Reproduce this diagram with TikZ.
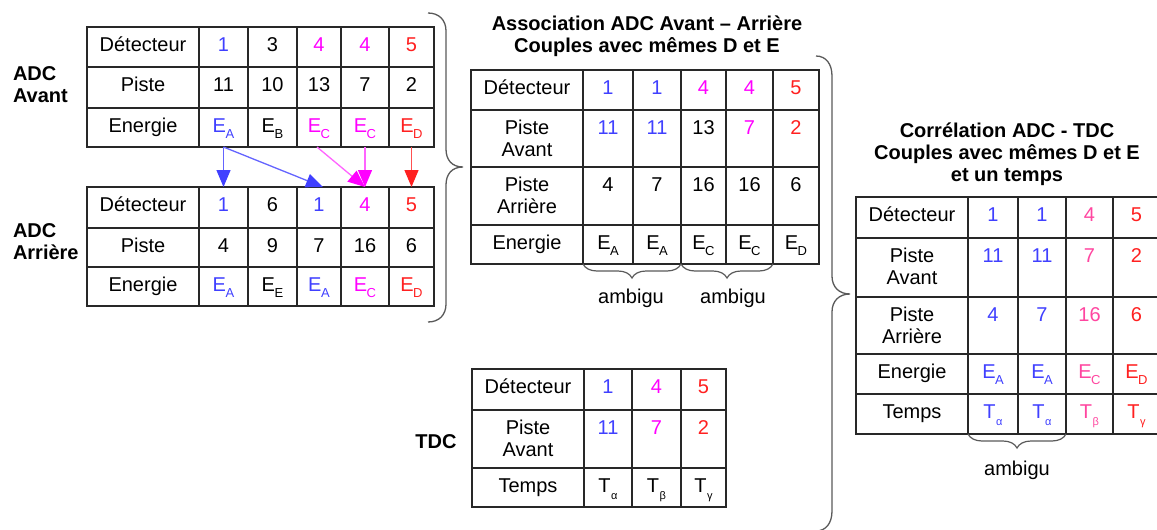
\documentclass[tikz,border=0pt]{standalone}
\usepackage{fontspec}
\setmainfont{Liberation Sans}
\usetikzlibrary{arrows.meta,decorations.pathreplacing}
\definecolor{cb}{RGB}{64,64,255}
\definecolor{cm}{RGB}{255,0,255}
\definecolor{cr}{RGB}{255,32,32}
\definecolor{cp}{RGB}{255,70,160}
\definecolor{gridc}{RGB}{40,40,40}
\definecolor{brc}{RGB}{90,90,90}
\definecolor{lineb}{RGB}{100,100,255}
\definecolor{linem}{RGB}{255,100,255}
\definecolor{liner}{RGB}{255,80,80}
\newcommand\cbox[2]{\vbox to #1pt{\vskip 8.6pt\hbox{\begin{tabular}[t]{@{}c@{}}#2\end{tabular}}\vss}}
\newcommand\mkcell[6]{\node[cellbox, minimum width=#4pt, minimum height=#5pt, anchor=north west] (#1) at (#2,#3) {\cbox{#5}{#6}};}
\newcommand\Es[1]{E\kern-0.5pt\raisebox{-6.5pt}{\fontsize{13}{13}\selectfont #1}}
\newcommand\Ts[1]{T\kern0.5pt\raisebox{-7pt}{\fontsize{11}{11}\selectfont #1}}
\newcommand\cB[1]{\textcolor{cb}{#1}}
\newcommand\cM[1]{\textcolor{cm}{#1}}
\newcommand\cR[1]{\textcolor{cr}{#1}}
\newcommand\cP[1]{\textcolor{cp}{#1}}
\begin{document}
\begin{tikzpicture}[x=1pt,y=-1pt,
  every node/.style={font=\fontsize{20}{22}\selectfont, inner sep=0pt, outer sep=0pt},
  cellbox/.style={draw=gridc, line width=1.2pt, rectangle},
  ttl/.style={font=\fontsize{20}{22}\selectfont\bfseries},
  bigbrace/.style={draw=brc, line width=1.3pt},
  sbrace/.style={draw=brc, line width=1.2pt, decorate, decoration={brace, mirror, amplitude=14pt}},
  arrb/.style={draw=lineb, line width=1.3pt, -{Triangle[length=17pt,width=14pt,color=cb]}},
  arrm/.style={draw=linem, line width=1.3pt, -{Triangle[length=17pt,width=14pt,color=cm]}},
  arrr/.style={draw=liner, line width=1.3pt, -{Triangle[length=17pt,width=14pt,color=cr]}}]
\useasboundingbox (0,0) rectangle (1157,530);
\fill[white] (0,0) rectangle (1157,530);

% ---- labels
\node[ttl, anchor=base west] (lav) at (13,80) {\begin{tabular}[t]{@{}l@{}}ADC\\Avant\end{tabular}};
\node[ttl, anchor=base west] (lar) at (13,237) {\begin{tabular}[t]{@{}l@{}}ADC\\Arrière\end{tabular}};
\node[ttl, anchor=base] (ltdc) at (436,448) {TDC};
\node[ttl, anchor=base] (ttl1) at (647,30) {\begin{tabular}[t]{@{}c@{}}Association ADC Avant – Arrière\\Couples avec mêmes D et E\end{tabular}};
\node[ttl, anchor=base] (ttl2) at (1007,137) {\begin{tabular}[t]{@{}c@{}}Corrélation ADC - TDC\\Couples avec mêmes D et E\\et un temps\end{tabular}};

% ---- Table 1 : ADC Avant
\mkcell{ad0}{87}{27}{112}{40}{Détecteur}
\mkcell{ad1}{199}{27}{49}{40}{\cB{1}}
\mkcell{ad2}{248}{27}{49}{40}{3}
\mkcell{ad3}{297}{27}{44}{40}{\cM{4}}
\mkcell{ad4}{341}{27}{48}{40}{\cM{4}}
\mkcell{ad5}{389}{27}{45}{40}{\cR{5}}
\mkcell{ap0}{87}{67}{112}{41}{Piste}
\mkcell{ap1}{199}{67}{49}{41}{11}
\mkcell{ap2}{248}{67}{49}{41}{10}
\mkcell{ap3}{297}{67}{44}{41}{13}
\mkcell{ap4}{341}{67}{48}{41}{7}
\mkcell{ap5}{389}{67}{45}{41}{2}
\mkcell{ae0}{87}{108}{112}{39}{Energie}
\mkcell{ae1}{199}{108}{49}{39}{\cB{\Es{A}}}
\mkcell{ae2}{248}{108}{49}{39}{\Es{B}}
\mkcell{ae3}{297}{108}{44}{39}{\cM{\Es{C}}}
\mkcell{ae4}{341}{108}{48}{39}{\cM{\Es{C}}}
\mkcell{ae5}{389}{108}{45}{39}{\cR{\Es{D}}}

% ---- Table 2 : ADC Arriere
\mkcell{rd0}{87}{187}{112}{41}{Détecteur}
\mkcell{rd1}{199}{187}{49}{41}{\cB{1}}
\mkcell{rd2}{248}{187}{49}{41}{6}
\mkcell{rd3}{297}{187}{44}{41}{\cB{1}}
\mkcell{rd4}{341}{187}{48}{41}{\cM{4}}
\mkcell{rd5}{389}{187}{45}{41}{\cR{5}}
\mkcell{rp0}{87}{228}{112}{39}{Piste}
\mkcell{rp1}{199}{228}{49}{39}{4}
\mkcell{rp2}{248}{228}{49}{39}{9}
\mkcell{rp3}{297}{228}{44}{39}{7}
\mkcell{rp4}{341}{228}{48}{39}{16}
\mkcell{rp5}{389}{228}{45}{39}{6}
\mkcell{re0}{87}{267}{112}{39}{Energie}
\mkcell{re1}{199}{267}{49}{39}{\cB{\Es{A}}}
\mkcell{re2}{248}{267}{49}{39}{\Es{E}}
\mkcell{re3}{297}{267}{44}{39}{\cB{\Es{A}}}
\mkcell{re4}{341}{267}{48}{39}{\cM{\Es{C}}}
\mkcell{re5}{389}{267}{45}{39}{\cR{\Es{D}}}

% ---- arrows
\draw[arrb] (ae1.south) -- (rd1.north);
\draw[arrb] (ae1.south) -- ([xshift=4pt]rd3.north);
\draw[arrm] ([xshift=-2pt]ae3.south) -- (rd4.north);
\draw[arrm] (ae4.south) -- (rd4.north);
\draw[arrr] (ae5.south) -- (rd5.north);

% ---- Table 3 : Association
\mkcell{sd0}{471}{70}{112}{40}{Détecteur}
\mkcell{sd1}{583}{70}{50}{40}{\cB{1}}
\mkcell{sd2}{633}{70}{48}{40}{\cB{1}}
\mkcell{sd3}{681}{70}{45}{40}{\cM{4}}
\mkcell{sd4}{726}{70}{47}{40}{\cM{4}}
\mkcell{sd5}{773}{70}{46}{40}{\cR{5}}
\mkcell{sa0}{471}{110}{112}{57}{Piste\\Avant}
\mkcell{sa1}{583}{110}{50}{57}{\cB{11}}
\mkcell{sa2}{633}{110}{48}{57}{\cB{11}}
\mkcell{sa3}{681}{110}{45}{57}{13}
\mkcell{sa4}{726}{110}{47}{57}{\cM{7}}
\mkcell{sa5}{773}{110}{46}{57}{\cR{2}}
\mkcell{sr0}{471}{167}{112}{58}{Piste\\Arrière}
\mkcell{sr1}{583}{167}{50}{58}{4}
\mkcell{sr2}{633}{167}{48}{58}{7}
\mkcell{sr3}{681}{167}{45}{58}{16}
\mkcell{sr4}{726}{167}{47}{58}{16}
\mkcell{sr5}{773}{167}{46}{58}{6}
\mkcell{se0}{471}{225}{112}{39}{Energie}
\mkcell{se1}{583}{225}{50}{39}{\Es{A}}
\mkcell{se2}{633}{225}{48}{39}{\Es{A}}
\mkcell{se3}{681}{225}{45}{39}{\Es{C}}
\mkcell{se4}{726}{225}{47}{39}{\Es{C}}
\mkcell{se5}{773}{225}{46}{39}{\Es{D}}

\draw[sbrace] (se1.south west) -- (se2.south east);
\draw[sbrace] (se3.south west) -- (se4.south east);
\node[anchor=base] (amb1) at (631,303) {ambigu};
\node[anchor=base] (amb2) at (733,303) {ambigu};

% ---- Table 4 : TDC
\mkcell{td0}{472}{369}{112}{41}{Détecteur}
\mkcell{td1}{584}{369}{48}{41}{\cB{1}}
\mkcell{td2}{632}{369}{49}{41}{\cM{4}}
\mkcell{td3}{681}{369}{45}{41}{\cR{5}}
\mkcell{ta0}{472}{410}{112}{58}{Piste\\Avant}
\mkcell{ta1}{584}{410}{48}{58}{\cB{11}}
\mkcell{ta2}{632}{410}{49}{58}{\cM{7}}
\mkcell{ta3}{681}{410}{45}{58}{\cR{2}}
\mkcell{tt0}{472}{468}{112}{39}{Temps}
\mkcell{tt1}{584}{468}{48}{39}{\Ts{α}}
\mkcell{tt2}{632}{468}{49}{39}{\Ts{β}}
\mkcell{tt3}{681}{468}{45}{39}{\Ts{γ}}

% ---- Table 5 : Correlation
\mkcell{cd0}{856}{197}{112}{41}{Détecteur}
\mkcell{cd1}{968}{197}{50}{41}{\cB{1}}
\mkcell{cd2}{1018}{197}{48}{41}{\cB{1}}
\mkcell{cd3}{1066}{197}{47}{41}{\cP{4}}
\mkcell{cd4}{1113}{197}{47}{41}{\cR{5}}
\mkcell{ca0}{856}{238}{112}{59}{Piste\\Avant}
\mkcell{ca1}{968}{238}{50}{59}{\cB{11}}
\mkcell{ca2}{1018}{238}{48}{59}{\cB{11}}
\mkcell{ca3}{1066}{238}{47}{59}{\cP{7}}
\mkcell{ca4}{1113}{238}{47}{59}{\cR{2}}
\mkcell{cr0}{856}{297}{112}{57}{Piste\\Arrière}
\mkcell{cr1}{968}{297}{50}{57}{\cB{4}}
\mkcell{cr2}{1018}{297}{48}{57}{\cB{7}}
\mkcell{cr3}{1066}{297}{47}{57}{\cP{16}}
\mkcell{cr4}{1113}{297}{47}{57}{\cR{6}}
\mkcell{ce0}{856}{354}{112}{40}{Energie}
\mkcell{ce1}{968}{354}{50}{40}{\cB{\Es{A}}}
\mkcell{ce2}{1018}{354}{48}{40}{\cB{\Es{A}}}
\mkcell{ce3}{1066}{354}{47}{40}{\cP{\Es{C}}}
\mkcell{ce4}{1113}{354}{47}{40}{\cR{\Es{D}}}
\mkcell{ct0}{856}{394}{112}{40}{Temps}
\mkcell{ct1}{968}{394}{50}{40}{\cB{\Ts{α}}}
\mkcell{ct2}{1018}{394}{48}{40}{\cB{\Ts{α}}}
\mkcell{ct3}{1066}{394}{47}{40}{\cP{\Ts{β}}}
\mkcell{ct4}{1113}{394}{47}{40}{\cR{\Ts{γ}}}

\draw[sbrace] (ct1.south west) -- (ct2.south east);
\node[anchor=base] (amb3) at (1017,475) {ambigu};

% ---- big braces
\draw[bigbrace] (428,13) .. controls (439,13) and (446,20) .. (446,31) -- (446,149)
  .. controls (446,160) and (452,167) .. (463,167)
  .. controls (452,167) and (446,174) .. (446,185) -- (446,304)
  .. controls (446,315) and (439,322) .. (428,322);
\draw[bigbrace] (816,56) .. controls (826,56) and (832,64) .. (832,76) -- (832,276)
  .. controls (832,287) and (839,294) .. (850,294)
  .. controls (839,294) and (832,301) .. (832,312) -- (832,511)
  .. controls (832,523) and (826,531) .. (816,531);
\end{tikzpicture}
\end{document}
